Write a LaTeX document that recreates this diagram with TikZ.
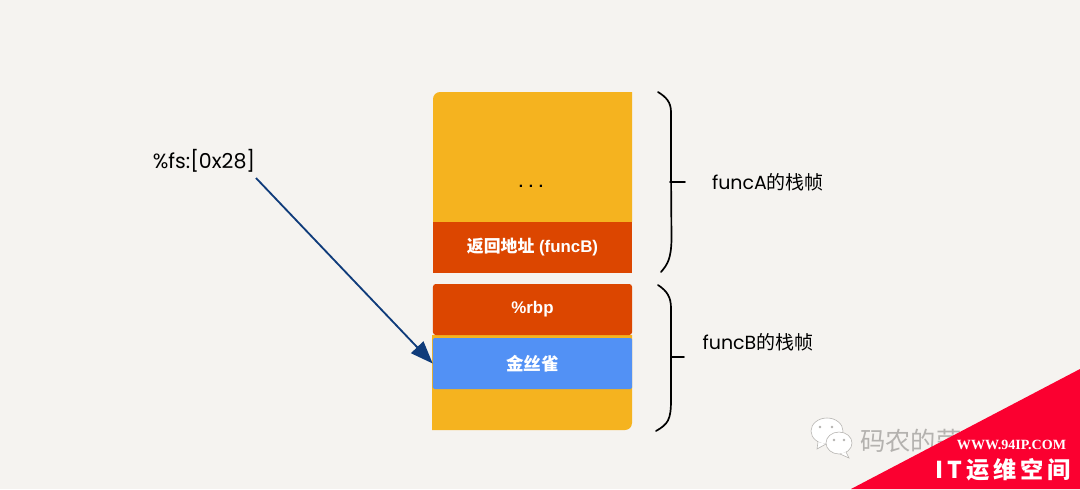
\documentclass[tikz,border=0pt]{standalone}
\usepackage{fontspec}
\setmainfont{Liberation Sans}
\newfontfamily\handfont{Poppins}
\newfontfamily\cjk{Noto Sans CJK SC}
\usetikzlibrary{arrows.meta}
\definecolor{paper}{HTML}{F5F3F0}
\definecolor{stackyellow}{HTML}{F5B31F}
\definecolor{stackred}{HTML}{DC4600}
\definecolor{stackblue}{HTML}{5291F5}
\definecolor{arrowblue}{HTML}{0F3B7A}
\definecolor{markred}{HTML}{FB0030}
\definecolor{wechatgray}{HTML}{B4B2AF}
\tikzset{
    slot/.style={rectangle, minimum width=4.975cm, minimum height=1.275cm, inner sep=0pt, text=white, font=\fontsize{12}{14}\bfseries},
    brace/.style={line width=1.2pt, line cap=round, line join=round},
    framelabel/.style={font=\fontsize{13.5}{15}\handfont},
    bubble/.style={draw=wechatgray, fill=white, line width=0.4pt}
}

\begin{document}
\begin{tikzpicture}[x=0.025cm,y=-0.025cm]
    \useasboundingbox (0,0) rectangle (1080,489);
    \fill[paper] (0,0) rectangle (1080,489);
    % stack blocks
    \fill[stackyellow] (433,222) [rounded corners=5pt] -- (433,92) [sharp corners] -- (632,92) -- (632,222) -- cycle;
    \fill[stackyellow] (432,335) -- (632,335) [rounded corners=5pt] -- (632,430) [sharp corners] -- (432,430) -- cycle;
    \node[font=\fontsize{11}{13}\bfseries] (dots) at (531,186) {. . .};
    \node[slot, fill=stackred] (retaddr) at (532.5,247.5) {{\cjk 返回地址} (funcB)};
    \node[slot, fill=stackred, rounded corners=2pt] (rbp) at (532.5,309.5) {\%rbp};
    \node[slot, fill=stackblue, rounded corners=1pt] (canary) at (532.5,363.5) {\cjk\fontsize{12.5}{14}\selectfont 金丝雀};
    % left label and arrow
    \node[font=\fontsize{14.6}{16}\handfont, inner sep=0pt] (fslabel) at (204,160.5) {\%fs:[0x28]};
    \coordinate (arrowstart) at (256,178);
    \draw[arrowblue, line width=1.3pt, -{Triangle[length=16pt,width=12pt]}] (arrowstart) -- (canary.west);
    % braces
    \draw[brace] (658,92) .. controls (666,97) and (671,102) .. (671,112) -- (671,170) -- (671.5,240) .. controls (671,258) and (668,264) .. (661,272);
    \draw[brace] (670,182) -- (685,182);
    \draw[brace] (658,285) .. controls (667,291) and (671,297) .. (671,308) -- (671,400) .. controls (671,420) and (668,424) .. (656,431);
    \draw[brace] (671,357) -- (684,357);
    \node[framelabel] (funcalabel) at (768,182) {funcA{\cjk 的栈帧}};
    \node[framelabel] (funcblabel) at (758,342) {funcB{\cjk 的栈帧}};
    % watermark
    \fill[bubble] (827,431) ellipse (16 and 13);
    \draw[wechatgray, line width=0.4pt, fill=white] (818,442) -- (817,449) -- (826,444);
    \fill[wechatgray] (820,427) circle (1.3) (832,427) circle (1.3);
    \fill[bubble] (839,443) ellipse (13 and 11);
    \draw[wechatgray, line width=0.4pt, fill=white] (846,452) -- (849,458) -- (840,454);
    \fill[wechatgray] (834,440) circle (1.3) (844,440) circle (1.3);
    \node[font=\fontsize{18}{20}\cjk, text=wechatgray, anchor=west, inner sep=0pt] (wechatname) at (860,441) {码农的荣};
    \fill[markred] (1080,369) -- (1080,489) -- (851,489) -- cycle;
    \node[font=\fontsize{10}{12}\bfseries\fontspec{Liberation Serif}, text=white, inner sep=0pt] (siteurl) at (1011.5,445) {WWW.94IP.COM};
    \node[font=\fontsize{16.5}{20}\bfseries\cjk, text=white, inner sep=0pt] (sitename) at (1003,470) {I\,T\,运\,维\,空\,间};
\end{tikzpicture}
\end{document}
